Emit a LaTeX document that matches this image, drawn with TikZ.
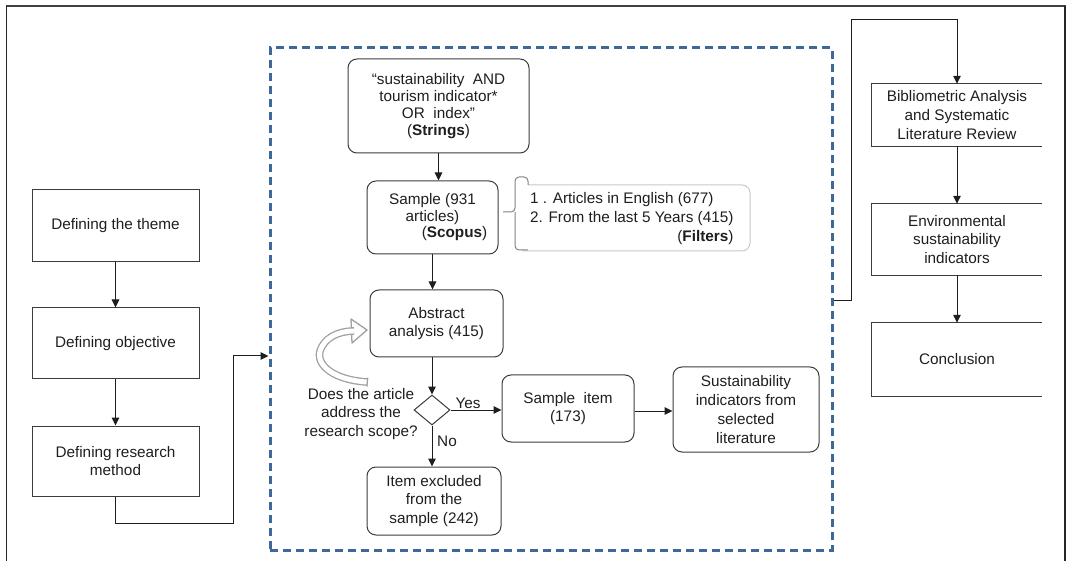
\documentclass[tikz,border=0pt]{standalone}
\usepackage{fontspec}
\setmainfont{Liberation Sans}
\usetikzlibrary{arrows.meta,shapes.geometric}
\definecolor{dashblue}{RGB}{62,104,152}
\definecolor{ink}{RGB}{30,30,30}
\definecolor{edge}{RGB}{60,60,60}
\definecolor{bracegray}{RGB}{130,130,130}
\definecolor{calloutgray}{RGB}{200,200,200}
\definecolor{loopgray}{RGB}{160,160,160}

\begin{document}
\begin{tikzpicture}[x=1pt,y=-1pt,
  font=\fontsize{15.3}{18.8}\selectfont,
  every node/.style={text=ink, inner sep=0pt, align=center},
  sqbox/.style={draw=edge, line width=1pt, rectangle},
  openbox/.style={rectangle, minimum width=170pt},
  rbox/.style={draw=edge, line width=1pt, rectangle, rounded corners=9pt},
  arr/.style={draw=ink, line width=1pt, -{Triangle[length=8pt,width=7.5pt]}},
  boxside/.style={draw=edge, line width=1pt}
]
\useasboundingbox (0,0) rectangle (1066,561);

% outer border of the figure
\draw[line width=1.6pt, draw=gray!50!black] (6,6) -- (1066,6);
\draw[line width=1.8pt, draw=black!85] (6.5,6) -- (6.5,561);
\draw[line width=1.6pt, draw=black!85] (1065,6) -- (1065,561);

% dashed frame around the search procedure
\node[rectangle, draw=dashblue, line width=3pt, dash pattern=on 8pt off 5pt,
      minimum width=562pt, minimum height=502pt] (frame) at (551,299) {};

% left column
\node[sqbox, minimum width=167pt, minimum height=72pt] (theme) at (115.5,226) {Defining the theme};
\node[sqbox, minimum width=167pt, minimum height=71pt] (obj) at (115.5,343.5) {Defining objective};
\node[sqbox, minimum width=167pt, minimum height=70pt] (method) at (115.5,461) {Defining research\\method};

\draw[arr] (theme.south) -- (obj.north);
\draw[arr] (obj.south) -- (method.north);
\draw[arr] (method.south) |- (233,523) |- (frame.west |- 0,356);

% search procedure
\node[rbox, minimum width=181pt, minimum height=94pt, font=\fontsize{15.3}{17}\selectfont] (strings) at (438.5,106)
  {“sustainability\ \ AND\\tourism indicator*\\OR\ \ index”\\(\textbf{Strings})};
\node[rbox, minimum width=131pt, minimum height=73pt, font=\fontsize{15.3}{16.5}\selectfont] (sample) at (432.5,217.5)
  {Sample (931\\articles)\\\hspace*{44pt}(\textbf{Scopus})};
\node[rbox, minimum width=133pt, minimum height=67pt] (abstract) at (436.5,323.5) {Abstract\\analysis (415)};
\node[diamond, draw=edge, line width=1pt, minimum width=36pt, minimum height=30pt] (dia) at (432,410) {};
\node[rbox, minimum width=134pt, minimum height=68pt] (excl) at (434,501) {Item excluded\\from the\\sample (242)};
\node[rbox, minimum width=132pt, minimum height=67pt] (item) at (568,408.5) {Sample\ \ item\\(173)};
\node[rbox, minimum width=146pt, minimum height=85pt] (sust) at (746,409.5) {Sustainability\\indicators from\\selected\\literature};

\node (question) at (361,414) {Does the article\\address the\\research scope?};
\node (yes) at (468,403) {Yes};
\node (no) at (447,441) {No};

\draw[arr] (strings.south) -- (strings.south |- sample.north);
\draw[arr] (sample.south) -- (sample.south |- abstract.north);
\draw[arr] (dia.north |- abstract.south) -- (dia.north);
\draw[arr] (dia.south) -- (dia.south |- excl.north);
\draw[arr] (dia.east) -- (dia.east -| item.west);
\draw[arr] (item.east |- 0,411) -- (sust.west |- 0,411);

% filter callout with its bracket
\node[anchor=west] (filters) at (530,219)
  {\begin{tabular}{@{}l@{}}1 . Articles in English (677)\\2. From the last 5 Years (415)\\\hfill(\textbf{Filters})\end{tabular}};
\draw[draw=calloutgray, line width=1pt, rounded corners=8pt] (528,185) -- (750,185) -- (750,251) -- (522,251);
\draw[draw=bracegray, line width=1pt, rounded corners=4pt] (528,185) -- (528,177) -- (515,177) -- (515,212) -- (503,212);
\draw[draw=bracegray, line width=1pt, rounded corners=4pt] (515,212) -- (515,250) -- (528,250);

% hollow loop arrow back to the abstract analysis
\draw[draw=loopgray, line width=1.3pt, fill=white, line join=round] (351,319) -- (367,330) -- (352,343) -- cycle;
\draw[draw=loopgray, line width=1.3pt, double=white, double distance=5pt]
  (367,382) .. controls (335,380) and (316,366) .. (320,351) .. controls (324,338) and (338,331) .. (354,331);
\draw[draw=loopgray, line width=1.3pt] (367.7,377.7) -- (366.9,386.7);

% right column
\node[openbox, minimum height=62pt] (bib) at (957,115) {Bibliometric Analysis\\and Systematic\\Literature Review};
\node[openbox, minimum height=71pt] (env) at (957,239.5) {Environmental\\sustainability\\indicators};
\node[openbox, minimum height=73pt] (concl) at (957,359.5) {Conclusion};
\foreach \b in {bib,env,concl}
  \draw[boxside] (\b.north east) -- (\b.north west) -- (\b.south west) -- (\b.south east);

\draw[arr] (bib.south) -- (env.north);
\draw[arr] (env.south) -- (concl.north);
\draw[arr] (frame.east |- 0,301) -- (851,301) -- (851,20) -| (bib.north);

\end{tikzpicture}
\end{document}
